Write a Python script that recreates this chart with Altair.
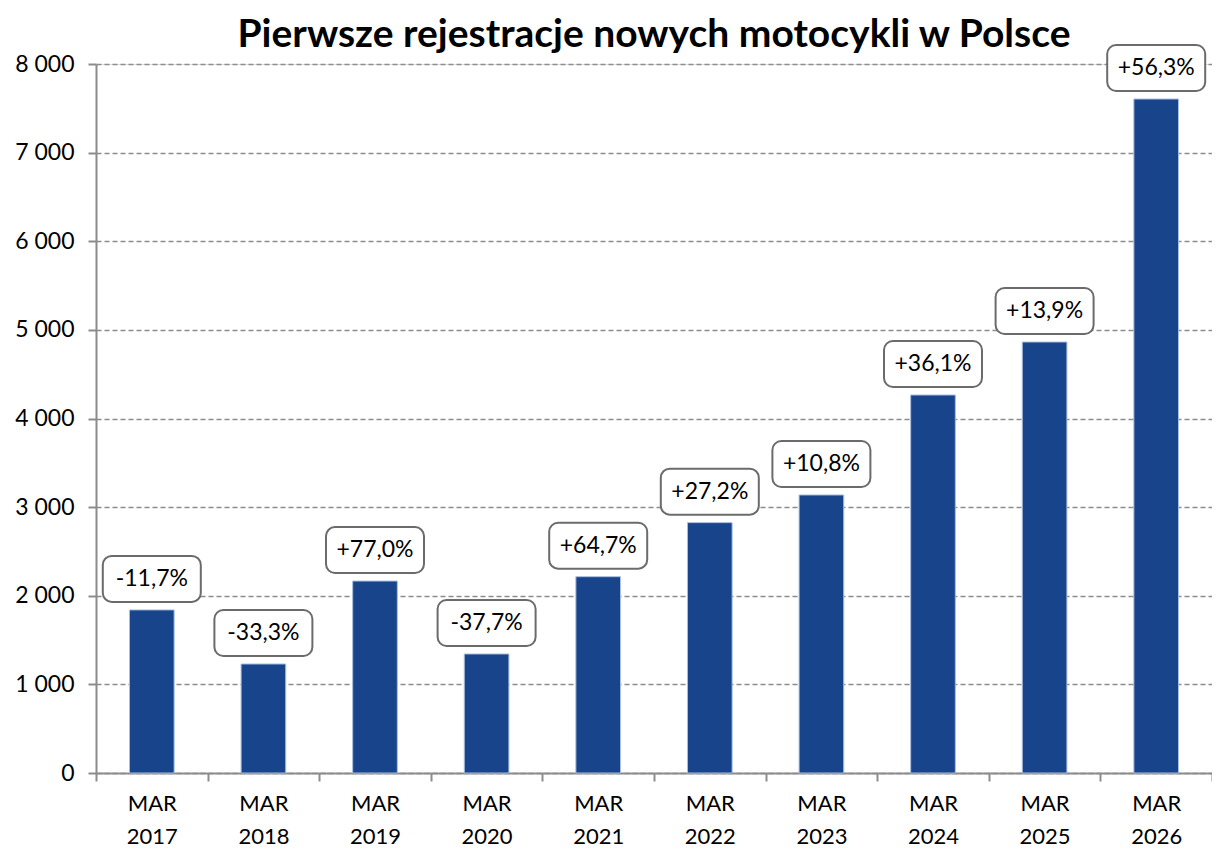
import altair as alt
import pandas as pd

categories = ["MAR 2017", "MAR 2018", "MAR 2019", "MAR 2020", "MAR 2021",
              "MAR 2022", "MAR 2023", "MAR 2024", "MAR 2025", "MAR 2026"]
values = [1840, 1230, 2166, 1343, 2215, 2825, 3137, 4265, 4863, 7605]
changes = ["-11,7%", "-33,3%", "+77,0%", "-37,7%", "+64,7%",
           "+27,2%", "+10,8%", "+36,1%", "+13,9%", "+56,3%"]

df = pd.DataFrame({"cat": categories, "value": values, "change": changes})

FONT = "Lato"
BAR = "#17448a"
GRID = "#8c8c8c"

xscale = alt.Scale(paddingInner=0, paddingOuter=0)
x = alt.X("cat:N", sort=categories, title=None, scale=xscale,
          axis=alt.Axis(labelAngle=0,
                        labelExpr="isValid(datum.value) ? split(datum.value, ' ') : ''",
                        labelFont=FONT, labelFontSize=22, labelColor="#000000",
                        labelPadding=12, labelLineHeight=33,
                        tickBand="extent", tickSize=8, tickColor=GRID, tickWidth=2,
                        domainColor=GRID, domainWidth=2, grid=False))
y = alt.Y("value:Q", title=None,
          scale=alt.Scale(domain=[0, 8000], nice=False),
          axis=alt.Axis(values=list(range(0, 8001, 1000)),
                        labelExpr="replace(format(datum.value, ','), ',', ' ')",
                        labelFont=FONT, labelFontSize=23, labelColor="#000000",
                        labelPadding=14, tickSize=8, tickColor=GRID, tickWidth=2,
                        domainColor=GRID, domainWidth=2,
                        grid=True, gridColor=GRID, gridDash=[5, 3], gridWidth=1.3))

bars = alt.Chart(df).mark_bar(
    color=BAR, stroke="#a9bde0", strokeWidth=1, width=alt.RelativeBandSize(0.4)
).encode(x=x, y=y)

boxes = alt.Chart(df).mark_rect(
    width=98, height=46, yOffset=-31, cornerRadius=9,
    fill="white", stroke="#6b6b6b", strokeWidth=2
).encode(x=alt.X("cat:N", sort=categories), y=alt.Y("value:Q"))

texts = alt.Chart(df).mark_text(
    font=FONT, fontSize=23, color="#000000", yOffset=-31, baseline="middle", align="center"
).encode(x=alt.X("cat:N", sort=categories), y=alt.Y("value:Q"), text="change:N")

chart = alt.layer(bars, boxes, texts).properties(
    width=1116, height=709,
    title=alt.TitleParams("Pierwsze rejestracje nowych motocykli w Polsce",
                          font=FONT, fontSize=39, fontWeight="bold", color="#000000",
                          anchor="middle", offset=14, dy=25),
    autosize="none",
    padding={"left": 88, "top": 56, "right": 0, "bottom": 78},
).configure_view(stroke=None).configure(background="white")

chart.save("out.html", embed_options={"renderer": "svg", "actions": False})
